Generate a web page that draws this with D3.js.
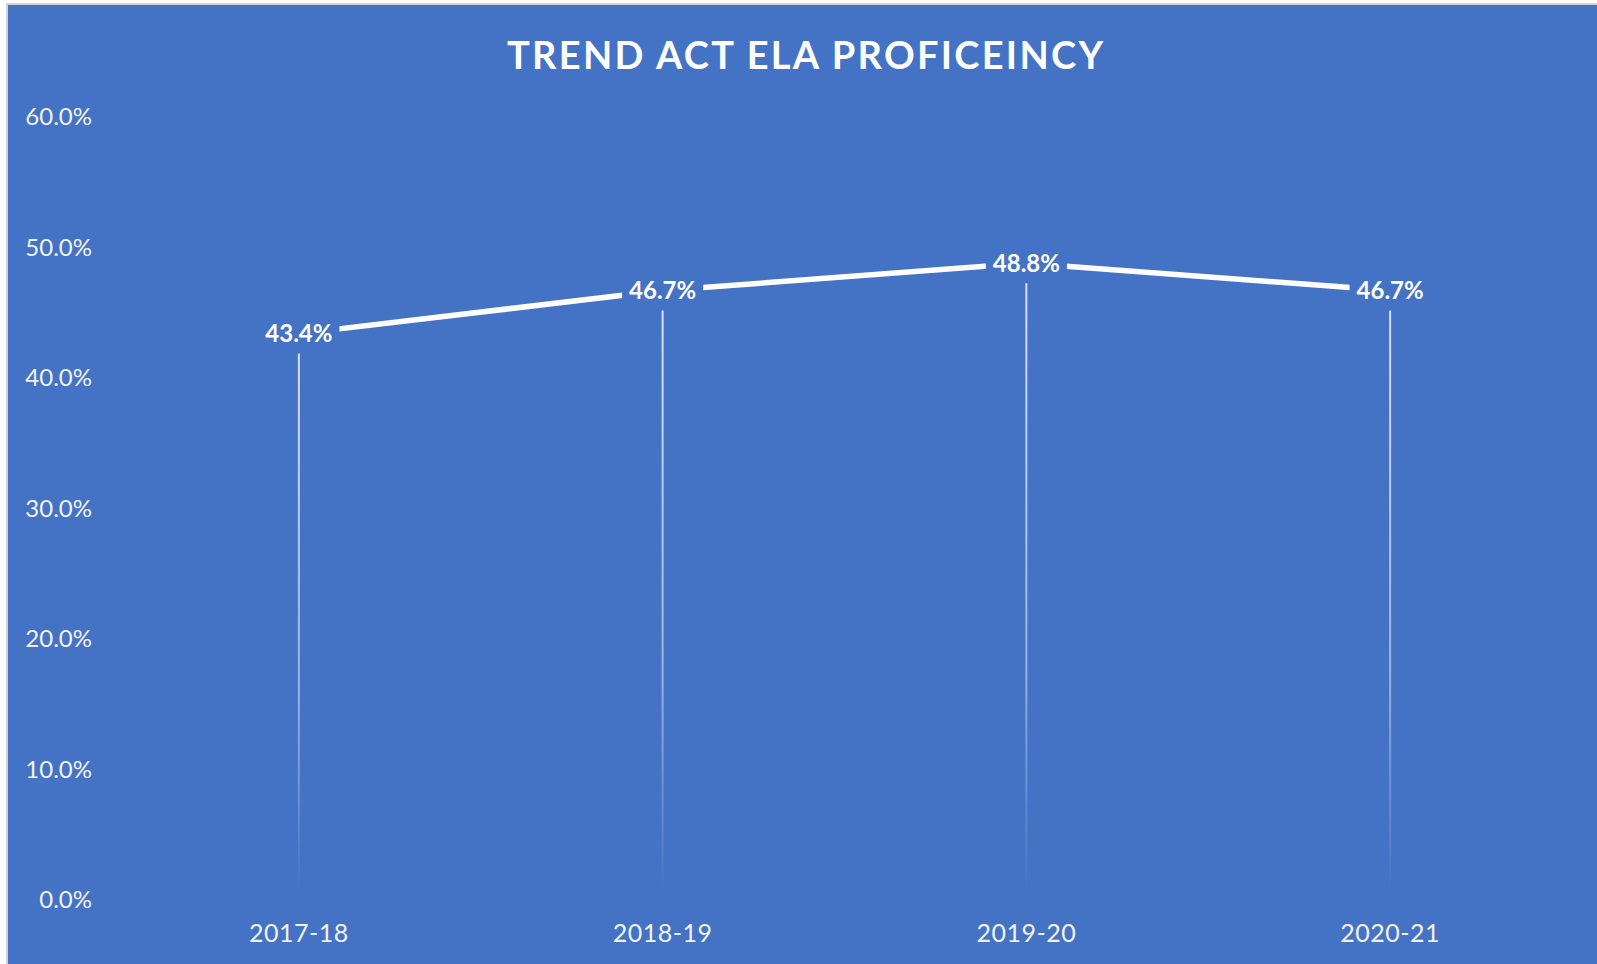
<!DOCTYPE html>
<html>
<head>
<meta charset="utf-8">
<script src="https://cdn.jsdelivr.net/npm/d3@7"></script>
<style>
  html, body { margin: 0; padding: 0; background: #fff; }
  svg { display: block; }
</style>
</head>
<body>
<svg id="chart" width="1597" height="964"></svg>
<script>
// chart data
const years = ["2017-18", "2018-19", "2019-20", "2020-21"]
const proficiency = [0.434, 0.467, 0.488, 0.467]
const yTicks = [0, 0.1, 0.2, 0.3, 0.4, 0.5, 0.6]
const title = "TREND ACT ELA PROFICEINCY"

const data = years.map((year, i) => ({ year, value: proficiency[i] }))

const svg = d3.select("#chart")
const width = +svg.attr("width")
const height = +svg.attr("height")

const blue = "#4472C4"
const font = "Lato, Carlito, Calibri, sans-serif"

// chart area box
svg.append("rect")
    .attr("x", 7)
    .attr("y", 4)
    .attr("width", width + 10)
    .attr("height", height + 10)
    .attr("fill", blue)
    .attr("stroke", "#d4d4d4")
    .attr("stroke-width", 2)

const x = d3.scaleBand()
    .domain(years)
    .range([117, 1572])

const y = d3.scaleLinear()
    .domain([0, 0.6])
    .range([900, 117])

const cx = d => x(d.year) + x.bandwidth() / 2

// gradient for the drop lines
const defs = svg.append("defs")
const grad = defs.append("linearGradient")
    .attr("id", "dropFade")
    .attr("x1", 0).attr("y1", 0)
    .attr("x2", 0).attr("y2", 1)
grad.append("stop").attr("offset", "0%").attr("stop-color", "#fff").attr("stop-opacity", 0.8)
grad.append("stop").attr("offset", "65%").attr("stop-color", "#fff").attr("stop-opacity", 0.45)
grad.append("stop").attr("offset", "100%").attr("stop-color", "#fff").attr("stop-opacity", 0)

// title
svg.append("text")
    .attr("x", 805)
    .attr("y", 69)
    .attr("text-anchor", "middle")
    .attr("textLength", 596)
    .attr("lengthAdjust", "spacing")
    .style("font-family", font)
    .style("font-weight", 700)
    .style("font-size", "38px")
    .style("fill", "#fff")
    .text(title)

// y axis labels
const yAxis = d3.axisLeft(y)
    .tickValues(yTicks)
    .tickFormat(d3.format(".1%"))
    .tickSize(0)
    .tickPadding(0)

svg.append("g")
    .attr("transform", "translate(92,0)")
    .call(yAxis)
    .call(g => g.select(".domain").remove())
    .call(g => g.selectAll("text")
        .style("font-family", font)
        .style("font-size", "24px")
        .style("fill", "#f2f2f2"))

// x axis labels
const xAxis = d3.axisBottom(x)
    .tickSize(0)
    .tickPadding(0)

svg.append("g")
    .attr("transform", "translate(0,924)")
    .call(xAxis)
    .call(g => g.select(".domain").remove())
    .call(g => g.selectAll("text")
        .style("font-family", font)
        .style("font-size", "25px")
        .style("letter-spacing", "0.5px")
        .style("fill", "#f2f2f2"))

// drop lines
svg.append("g").selectAll("rect")
    .data(data)
    .join("rect")
    .attr("x", d => cx(d) - 1)
    .attr("y", d => y(d.value))
    .attr("width", 2)
    .attr("height", d => y(0) - 8 - y(d.value))
    .attr("fill", "url(#dropFade)")

// trend line
const line = d3.line()
    .x(cx)
    .y(d => y(d.value))

svg.append("path")
    .datum(data)
    .attr("d", line)
    .attr("fill", "none")
    .attr("stroke", "#fff")
    .attr("stroke-width", 5.5)

// data labels with a background box
const labels = svg.append("g").selectAll("g")
    .data(data)
    .join("g")
    .attr("transform", d => `translate(${cx(d)},${y(d.value)})`)

labels.append("text")
    .attr("text-anchor", "middle")
    .attr("dy", "0.36em")
    .style("font-family", font)
    .style("font-weight", 700)
    .style("font-size", "24px")
    .style("fill", "#fff")
    .text(d => d3.format(".1%")(d.value))

labels.each(function () {
    const g = d3.select(this)
    const box = g.select("text").node().getBBox()
    g.insert("rect", "text")
        .attr("x", box.x - 7)
        .attr("y", -20)
        .attr("width", box.width + 14)
        .attr("height", 40)
        .attr("fill", blue)
})
</script>
</body>
</html>
